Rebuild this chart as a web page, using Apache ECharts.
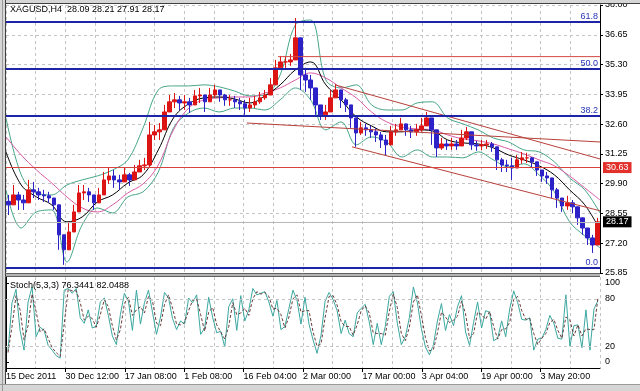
<!DOCTYPE html>
<html><head><meta charset="utf-8">
<script src="https://cdn.jsdelivr.net/npm/echarts@6/dist/echarts.min.js"></script>
<style>html,body{margin:0;padding:0;background:#fff}#c{width:640px;height:391px}</style>
</head><body><div id="c"></div>
<script>
// ---- price bars (XAGUSD H4, aggregated) ----
const priceOpen = [29.10,28.94,29.39,29.16,29.03,29.62,29.53,29.39,29.35,29.25,
28.94,27.58,26.90,27.71,28.62,29.48,29.53,29.39,29.03,29.39,
30.07,30.25,30.07,29.98,30.30,30.07,30.43,30.71,30.75,32.11,
32.25,32.34,33.15,33.61,33.70,33.56,33.61,33.47,33.88,33.92,
33.61,33.92,34.15,33.92,33.70,33.70,33.61,33.52,33.33,33.47,
33.61,33.79,33.92,34.38,35.15,35.42,35.42,35.51,36.51,34.83,
34.60,34.24,33.47,33.02,33.15,33.79,34.15,33.70,33.47,32.88,
32.20,32.43,32.34,32.25,32.11,31.88,31.66,32.25,32.34,32.61,
32.34,32.25,32.34,32.52,32.88,32.34,31.52,31.70,31.61,31.70,
31.61,31.97,32.25,31.66,31.61,31.66,31.70,31.57,30.98,30.75,
30.71,30.61,30.98,31.07,31.07,30.89,30.52,30.25,30.16,29.62,
29.25,28.89,29.03,28.85,28.35,27.89,27.44,27.12];
const priceClose = [28.94,29.39,29.16,29.03,29.62,29.53,29.39,29.35,29.25,28.94,
27.58,26.90,27.71,28.62,29.48,29.53,29.39,29.03,29.39,30.07,
30.25,30.07,29.98,30.30,30.07,30.43,30.71,30.75,32.11,32.25,
32.34,33.15,33.61,33.70,33.56,33.61,33.47,33.88,33.92,33.61,
33.92,34.15,33.92,33.70,33.70,33.61,33.52,33.33,33.47,33.61,
33.79,33.92,34.38,35.15,35.42,35.42,35.51,36.51,34.83,34.60,
34.24,33.47,33.02,33.15,33.79,34.15,33.70,33.47,32.88,32.20,
32.43,32.34,32.25,32.11,31.88,31.66,32.25,32.34,32.61,32.34,
32.25,32.34,32.52,32.88,32.34,31.52,31.70,31.61,31.70,31.61,
31.97,32.25,31.66,31.61,31.66,31.70,31.57,30.98,30.75,30.71,
30.61,30.98,31.07,31.07,30.89,30.52,30.25,30.16,29.62,29.25,
28.89,29.03,28.85,28.35,27.89,27.44,27.12,28.17];
const priceLow = [28.48,28.94,28.71,28.71,29.25,29.25,29.16,29.07,29.03,28.71,
26.90,26.22,27.26,28.26,29.07,29.16,29.07,28.71,29.07,29.71,
29.89,29.71,29.62,29.98,29.80,30.16,30.43,30.52,30.61,31.88,
31.88,32.79,33.24,33.33,33.24,33.24,33.11,33.61,33.56,33.15,
33.61,33.79,33.61,33.43,33.43,33.33,33.24,33.02,33.15,33.33,
33.52,33.70,34.06,34.69,35.06,35.15,35.24,35.51,34.15,34.06,
33.70,33.02,32.79,32.79,33.47,33.79,33.33,33.15,32.43,31.57,
32.11,32.07,31.97,31.79,31.52,31.20,31.97,32.07,32.34,32.07,
31.97,32.07,32.25,32.52,31.66,31.11,31.43,31.43,31.43,31.43,
31.61,31.88,31.43,31.39,31.43,31.48,31.34,30.52,30.43,30.43,
30.07,30.75,30.80,30.84,30.61,30.25,29.98,29.89,29.25,28.80,
28.62,28.71,28.57,28.03,27.58,27.12,26.76,27.58];
const priceHigh = [29.39,29.84,29.53,29.39,30.07,29.98,29.71,29.62,29.53,29.25,
28.26,27.58,28.17,28.94,29.84,29.84,29.71,29.35,29.71,30.43,
30.61,30.52,30.30,30.61,30.39,30.75,30.98,31.07,32.70,32.56,
32.65,33.47,33.92,34.01,33.88,33.92,33.79,34.15,34.24,33.92,
34.24,34.38,34.15,33.97,33.92,33.88,33.79,33.70,33.79,33.88,
34.06,34.15,34.69,35.51,35.69,35.69,35.78,37.41,35.60,35.15,
34.83,34.01,33.47,33.47,34.15,34.42,34.06,33.79,33.33,32.70,
32.70,32.61,32.52,32.43,32.25,32.11,32.52,32.61,32.88,32.56,
32.52,32.61,32.88,33.15,32.79,31.97,31.97,31.88,31.97,31.88,
32.34,32.47,31.88,31.84,31.88,31.88,31.79,31.43,31.07,30.98,
31.07,31.20,31.34,31.30,31.11,30.75,30.52,30.43,29.98,29.71,
29.25,29.35,29.16,28.62,28.26,27.80,27.58,28.35];

// ---- indicator lines (sampled evenly across the chart) ----
const maBlack = [31.34,29.84,29.30,28.94,28.17,28.39,29.07,29.39,29.93,30.30,
31.43,32.88,33.52,33.79,33.83,33.74,33.56,33.88,34.38,35.06,
35.42,34.38,33.70,32.93,32.52,32.25,32.25,32.34,32.29,31.88,
31.75,31.70,31.52,31.20,30.98,30.71,30.30,29.62,28.94,27.80];
const maPink = [32.02,31.20,30.52,29.93,29.30,28.80,28.62,28.94,29.48,29.89,
30.75,32.34,33.33,33.70,33.79,33.83,33.83,34.01,34.24,34.60,
34.92,34.69,34.24,33.79,33.15,32.70,32.47,32.38,32.34,32.11,
31.93,31.84,31.70,31.48,31.25,30.98,30.71,30.25,29.71,29.16];
const bbUpper = [32.88,30.30,29.48,29.39,29.84,30.07,30.25,30.52,30.98,32.43,
34.15,34.33,34.33,34.38,34.29,34.10,33.88,33.92,34.83,37.10,
37.32,34.60,34.24,34.38,33.47,33.24,33.24,33.56,33.61,32.88,
32.61,32.34,31.97,31.79,31.43,31.34,30.89,30.16,29.62,28.57];
const bbLower = [29.62,27.89,28.62,28.71,26.35,28.03,28.80,28.57,29.30,29.53,
30.43,32.43,33.11,33.33,33.15,33.33,33.33,33.24,33.70,34.24,
33.70,32.34,32.70,31.66,32.02,31.79,31.11,31.43,31.11,31.11,
31.07,31.34,30.98,30.66,30.80,30.30,29.53,28.17,27.53,26.99];

// ---- stochastic (5,3,3) ----
const stochMain = [14,75,92,40,15,76,95,32,44,40,21,15,8,5,91,93,87,93,56,49,
66,43,45,76,81,59,33,22,60,87,77,40,91,48,75,91,63,35,57,88,
81,55,41,52,48,81,75,85,35,43,82,56,37,39,19,70,80,40,84,52,
66,93,85,87,89,76,58,78,41,45,68,91,78,48,82,48,28,11,34,77,
88,79,65,36,53,36,32,62,68,73,51,22,49,22,45,83,89,49,22,32,
56,95,75,42,19,9,22,52,74,40,60,46,70,84,38,21,50,76,43,65,
63,27,30,52,32,67,90,75,54,53,56,15,29,30,41,59,49,30,29,85,
20,46,47,18,66,15,67,78];
const stochSignal = [12,45,84,66,28,46,86,64,38,42,30,18,12,7,48,92,90,90,75,53,
58,55,44,60,79,70,46,28,41,74,82,59,66,70,62,83,77,49,46,73,
85,68,48,47,50,65,78,80,60,39,63,69,47,38,29,45,75,60,62,68,
59,80,89,86,88,83,67,68,60,43,57,80,85,63,65,65,38,20,23,56,
83,84,72,51,45,45,34,47,65,71,62,37,36,36,34,64,86,69,36,27,
44,76,85,59,31,14,16,37,63,57,50,53,58,77,61,30,36,63,60,54,
64,45,29,41,42,50,79,83,65,54,55,36,22,30,36,50,54,40,30,57,
53,33,47,33,42,41,41,82];
const stochTicks = [0, 20, 80, 100];
const stochLevels = [20, 80];

// ---- axis labels ----
const timeLabels = ['15 Dec 2011','30 Dec 12:00','17 Jan 08:00','1 Feb 08:00','16 Feb 04:00',
  '2 Mar 00:00','17 Mar 00:00','3 Apr 04:00','19 Apr 00:00','3 May 20:00'];
const priceTickStart = 25.85, priceTickStep = 1.35, priceTop = 38.00;

// ---- drawn objects (time in grid-division units, price) ----
const fibLevels = [{name:'61.8', price:37.23},{name:'50.0', price:35.10},{name:'38.2', price:32.97},{name:'0.0', price:26.08}];
const supportLevel = 30.63;
const bidPrice = 28.17;
const resistLine = [[9.16,35.66],[20,35.66]];
const trendMid = [[8.11,32.65],[20,31.79]];
const trendUpper = [[11.08,34.38],[20,31.02]];
const trendLower = [[11.65,31.57],[20,28.67]];

const FONT = '"Liberation Sans", Arial, sans-serif';
const chart = echarts.init(document.getElementById('c'), null, {renderer:'canvas'});
const idx = a => a.map((_, i) => i);
const candleData = priceOpen.map((o, i) => [o, priceClose[i], priceLow[i], priceHigh[i]]);
const dash = {color:'#c4c4c4', type:[3,3], width:1};
const lbl = {fontSize:9, fontFamily:FONT, color:'#000'};

function ln(name, data, color, xi, extra) {
  return Object.assign({type:'line', name, data, xAxisIndex:xi, yAxisIndex:0, symbol:'none',
    silent:true, lineStyle:{color, width:1}, z:3}, extra || {});
}

const option = {
  animation:false,
  backgroundColor:'#ffffff',
  grid:[{left:6,right:40,top:5,height:268},{left:6,right:40,top:277,height:91}],
  xAxis:[
    {type:'category', gridIndex:0, data:idx(priceClose), show:false, boundaryGap:true},
    {type:'category', gridIndex:0, data:idx(maBlack), show:false, boundaryGap:false},
    {type:'value', gridIndex:0, min:0, max:20, interval:1, axisLine:{show:false}, axisTick:{show:false},
      axisLabel:{show:false}, splitLine:{show:true, lineStyle:dash}},
    {type:'value', gridIndex:1, min:0, max:20, interval:1, axisLine:{show:false}, axisTick:{show:false},
      axisLabel:{show:false}, splitLine:{show:true, lineStyle:dash}},
    {type:'value', gridIndex:1, min:0, max:20, interval:2, position:'bottom',
      axisLine:{show:true, lineStyle:{color:'#000', width:1}},
      axisTick:{show:true, length:4, lineStyle:{color:'#000'}},
      axisLabel:Object.assign({formatter:v => v < 19 ? timeLabels[Math.round(v/2)] : '', align:'left', margin:4,
        showMaxLabel:false}, lbl),
      splitLine:{show:false}},
    {type:'category', gridIndex:1, data:idx(stochMain), show:false, boundaryGap:true}
  ],
  yAxis:[
    {type:'value', gridIndex:0, min:priceTickStart, max:priceTop, show:false},
    {type:'value', gridIndex:0, position:'right', min:0, max:priceTop - priceTickStart, interval:priceTickStep,
      axisLine:{show:true, lineStyle:{color:'#000'}},
      axisTick:{show:true, length:3, lineStyle:{color:'#000'}},
      axisLabel:Object.assign({formatter:v => (v + priceTickStart).toFixed(2), margin:5}, lbl),
      splitLine:{show:true, lineStyle:dash}},
    {type:'value', gridIndex:1, position:'right', min:-7.6, max:107.6,
      axisLine:{show:true, lineStyle:{color:'#000'}},
      axisTick:{show:true, length:3, customValues:stochTicks, lineStyle:{color:'#000'}},
      axisLabel:Object.assign({customValues:stochTicks, margin:5}, lbl),
      splitLine:{show:false}}
  ],
  series:[
    ln('BBupper', bbUpper, '#46a68a', 1, {smooth:0.35}),
    ln('BBlower', bbLower, '#46a68a', 1, {smooth:0.35}),
    ln('MApink', maPink, '#d85aa6', 1, {smooth:0.4}),
    ln('MAblack', maBlack, '#000000', 1, {smooth:0.4}),
    {type:'candlestick', name:'XAGUSD', data:candleData, xAxisIndex:0, yAxisIndex:0, barWidth:4, silent:true, z:4,
      itemStyle:{color:'#dd1414', color0:'#2c22c8', borderColor:'#dd1414', borderColor0:'#2c22c8', borderWidth:1}},
    ln('trendMid', trendMid, '#b8403a', 2, {z:5}),
    ln('trendUpper', trendUpper, '#b8403a', 2, {z:5}),
    ln('trendLower', trendLower, '#b8403a', 2, {z:5}),
    ln('resist', resistLine, '#d24a44', 2, {z:5,
      markLine:{silent:true, symbol:'none', animation:false, z:6,
        data:[
          ...fibLevels.map(f => ({yAxis:f.price, lineStyle:{color:'#1e24a8', width:2, type:'solid'},
            label:{show:true, position:'insideEndTop', formatter:f.name, distance:[2,1], color:'#2632b8',
              fontSize:9, fontFamily:FONT}})),
          {yAxis:supportLevel, lineStyle:{color:'#d8423c', width:1, type:'solid'},
            label:{show:true, position:'end', formatter:supportLevel.toFixed(2), distance:3,
              color:'#fff', backgroundColor:'#e2302a', padding:[1,3,1,3], fontSize:9, fontFamily:FONT}},
          {yAxis:bidPrice, lineStyle:{color:'#b8b8b8', width:1, type:'solid'},
            label:{show:true, position:'end', formatter:bidPrice.toFixed(2), distance:3,
              color:'#fff', backgroundColor:'#000', padding:[1,3,1,3], fontSize:9, fontFamily:FONT}}
        ]}}),
    {type:'line', name:'Stoch', data:stochMain, xAxisIndex:5, yAxisIndex:2, symbol:'none', silent:true,
      lineStyle:{color:'#3aa8a0', width:1}, z:3,
      markLine:{silent:true, symbol:'none', label:{show:false},
        data:stochLevels.map(v => ({yAxis:v})), lineStyle:{color:'#c4c4c4', type:[3,3], width:1}}},
    {type:'line', name:'Signal', data:stochSignal, xAxisIndex:5, yAxisIndex:2, symbol:'none', silent:true,
      lineStyle:{color:'#6e3a3a', width:1, type:[3,2]}, z:4}
  ],
  graphic:[
    {type:'rect', shape:{x:0,y:0,width:5,height:391}, style:{fill:'#d6d6d6'}, silent:true, z:10},
    {type:'line', shape:{x1:2.5,y1:0,x2:2.5,y2:391}, style:{stroke:'#9a9a9a', lineWidth:1}, silent:true, z:11},
    {type:'line', shape:{x1:5.5,y1:0,x2:5.5,y2:384}, style:{stroke:'#404040', lineWidth:1}, silent:true, z:11},
    {type:'rect', shape:{x:0,y:0,width:640,height:3}, style:{fill:'#d6d6d6'}, silent:true, z:10},
    {type:'line', shape:{x1:5,y1:3.5,x2:640,y2:3.5}, style:{stroke:'#404040', lineWidth:1}, silent:true, z:11},
    {type:'rect', shape:{x:5,y:273,width:595,height:4}, style:{fill:'#b4b4b4'}, silent:true, z:10},
    {type:'line', shape:{x1:5,y1:273.5,x2:600,y2:273.5}, style:{stroke:'#606060', lineWidth:1}, silent:true, z:11},
    {type:'line', shape:{x1:5,y1:276.5,x2:600,y2:276.5}, style:{stroke:'#606060', lineWidth:1}, silent:true, z:11},
    {type:'rect', shape:{x:0,y:384,width:640,height:7}, style:{fill:'#d6d6d6'}, silent:true, z:10},
    {type:'line', shape:{x1:0,y1:384.5,x2:640,y2:384.5}, style:{stroke:'#9a9a9a', lineWidth:1}, silent:true, z:11},
    {type:'text', left:10, top:5, silent:true, z:12,
      style:{text:'XAGUSD,H4  28.09 28.21 27.91 28.17', fill:'#000', font:'9px ' + FONT}},
    {type:'text', left:10, top:281, silent:true, z:12,
      style:{text:'Stoch(5,3,3) 76.3441 82.0488', fill:'#000', font:'9px ' + FONT}}
  ]
};
chart.setOption(option);
</script>
</body></html>
